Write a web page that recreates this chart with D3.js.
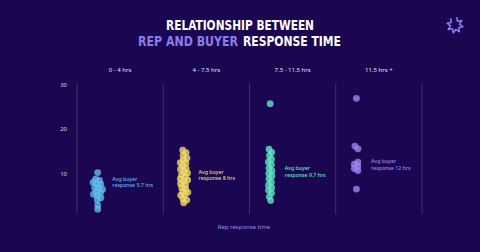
<!DOCTYPE html>
<meta charset="utf-8">
<html>
<head>
  <title>Rep and buyer response time</title>
  <script src="https://d3js.org/d3.v7.min.js"></script>
  <style>
    body { margin: 0; background: #1b0652; }
    text { font-family: "Noto Sans", sans-serif; }
  </style>
</head>
<body>
  <div id="chart"></div>
<script>
  // rep response buckets
  var buckets = ["0 - 4 hrs", "4 - 7.5 hrs", "7.5 - 11.5 hrs", "11.5 hrs +"];
  // buyer response times (hrs), one list per bucket
  var fast = [10.2, 8.6, 8.3, 8.0, 7.7, 7.4, 7.0, 6.7, 6.4, 6.0, 5.7, 5.3, 5.0, 4.6, 4.2, 2.9, 2.0];
  var medium = [15.2, 14.7, 14.1, 13.4, 13.0, 12.5, 12.3, 11.7, 11.2, 11.0, 10.4, 10.1, 9.6, 9.4, 8.8,
    8.5, 8.2, 7.6, 7.4, 6.8, 6.6, 6.0, 5.8, 5.2, 4.9, 4.4, 4.0, 3.7];
  var slow = [25.7, 15.4, 14.8, 14.0, 13.2, 12.6, 12.0, 11.2, 10.6, 10.0, 9.4, 8.8, 8.0, 7.4, 6.8, 6.2, 5.6, 4.8, 4.0];
  var slowest = [26.9, 16.1, 15.6, 12.5, 12.1, 11.6, 11.1, 10.7, 6.5];
  var averages = [5.7, 8, 9.7, 12];
  var noteAt = [8.0, 9.6, 10.4, 11.9];
  var yTicks = [10, 20, 30];
  var colors = ["#63bcf0", "#f1d96a", "#5fe6c0", "#9c86ee"];

  var width = 480, height = 252;
  var svg = d3.select("#chart").append("svg")
    .attr("width", width).attr("height", height);

  svg.append("rect").attr("width", width).attr("height", height).attr("fill", "#1b0652");

  // title
  var titleFont = "'DejaVu Sans Condensed', 'DejaVu Sans', sans-serif";
  svg.append("text")
    .attr("x", 240).attr("y", 30)
    .attr("text-anchor", "middle")
    .attr("textLength", 148).attr("lengthAdjust", "spacingAndGlyphs")
    .style("font-family", titleFont)
    .style("font-weight", "bold").style("font-size", "14px")
    .attr("fill", "#ffffff")
    .text("RELATIONSHIP BETWEEN");
  svg.append("text")
    .attr("x", 238).attr("y", 46)
    .attr("text-anchor", "end")
    .attr("textLength", 100).attr("lengthAdjust", "spacingAndGlyphs")
    .style("font-family", titleFont)
    .style("font-weight", "bold").style("font-size", "14px")
    .attr("fill", "#8b7cec")
    .text("REP AND BUYER");
  svg.append("text")
    .attr("x", 243).attr("y", 46)
    .attr("textLength", 98).attr("lengthAdjust", "spacingAndGlyphs")
    .style("font-family", titleFont)
    .style("font-weight", "bold").style("font-size", "14px")
    .attr("fill", "#ffffff")
    .text("RESPONSE TIME");

  // logo burst
  var burst = d3.range(17).map(function (i) {
    return [i * Math.PI * 2 / 16, i % 2 ? 4.5 : 8];
  });
  svg.append("path")
    .attr("transform", "translate(455,25) rotate(12)")
    .attr("d", d3.lineRadial()(burst.slice(0, 15)))
    .attr("fill", "none").attr("stroke", "#8b7cec").attr("stroke-width", 1.6)
    .attr("stroke-linejoin", "round");

  var x = d3.scaleBand().domain(buckets).range([77, 422]);
  var y = d3.scaleLinear().domain([0, 30]).range([218, 84.5]);

  // y axis
  var yAxis = svg.append("g")
    .attr("transform", "translate(77,0)")
    .call(d3.axisLeft(y).tickValues(yTicks).tickSize(0).tickPadding(10));
  yAxis.select(".domain").remove();
  yAxis.selectAll("text").attr("fill", "#d8d4ec").style("font-size", "6px")
    .style("font-family", "'Noto Sans', sans-serif");

  // column dividers
  var edges = [77].concat(buckets.map(function (b) { return x(b) + x.bandwidth(); }));
  svg.selectAll(".divider")
    .data(edges)
    .enter().append("line")
    .attr("x1", function (d) { return d; }).attr("x2", function (d) { return d; })
    .attr("y1", y(30.3)).attr("y2", y(0.9))
    .attr("stroke", "#ffffff").attr("stroke-opacity", 0.17).attr("stroke-width", 1);

  // bucket headers
  svg.selectAll(".head")
    .data(buckets)
    .enter().append("text")
    .attr("x", function (d) { return x(d) + x.bandwidth() / 2; })
    .attr("y", 72)
    .attr("text-anchor", "middle")
    .attr("fill", "#e4e0f4").style("font-size", "6px")
    .text(function (d) { return d; });

  // beeswarm points
  var series = [fast, medium, slow, slowest];
  var nodes = [];
  series.forEach(function (vals, i) {
    vals.forEach(function (v) {
      nodes.push({ b: i, v: v, cx: x(buckets[i]) + x.bandwidth() * 0.24 });
    });
  });
  nodes.forEach(function (n) { n.x = n.cx; n.y = y(n.v); });
  var sim = d3.forceSimulation(nodes)
    .force("x", d3.forceX(function (d) { return d.cx; }).strength(0.18))
    .force("y", d3.forceY(function (d) { return y(d.v); }).strength(1))
    .force("collide", d3.forceCollide(2.05))
    .stop();
  for (var k = 0; k < 200; k++) sim.tick();

  svg.selectAll(".dot")
    .data(nodes)
    .enter().append("circle")
    .attr("cx", function (d) { return d.x; })
    .attr("cy", function (d) { return d.y; })
    .attr("r", 3.4)
    .attr("fill", function (d) { return colors[d.b]; })
    .attr("fill-opacity", 0.8);

  // average notes
  buckets.forEach(function (b, i) {
    var nx = x(b) + x.bandwidth() * 0.41;
    var note = svg.append("text")
      .attr("x", nx)
      .attr("y", y(noteAt[i]))
      .attr("fill", colors[i]).style("font-size", "5.2px").style("font-weight", "500");
    note.append("tspan").attr("x", nx).attr("dy", "-0.3em").text("Avg buyer");
    note.append("tspan").attr("x", nx).attr("dy", "1.25em")
      .text("response " + averages[i] + " hrs");
  });

  // x axis title
  svg.append("text")
    .attr("x", 244).attr("y", 229)
    .attr("text-anchor", "middle")
    .attr("fill", "#9a8ede").style("font-size", "6px")
    .text("Rep response time");
</script>
</body>
</html>
